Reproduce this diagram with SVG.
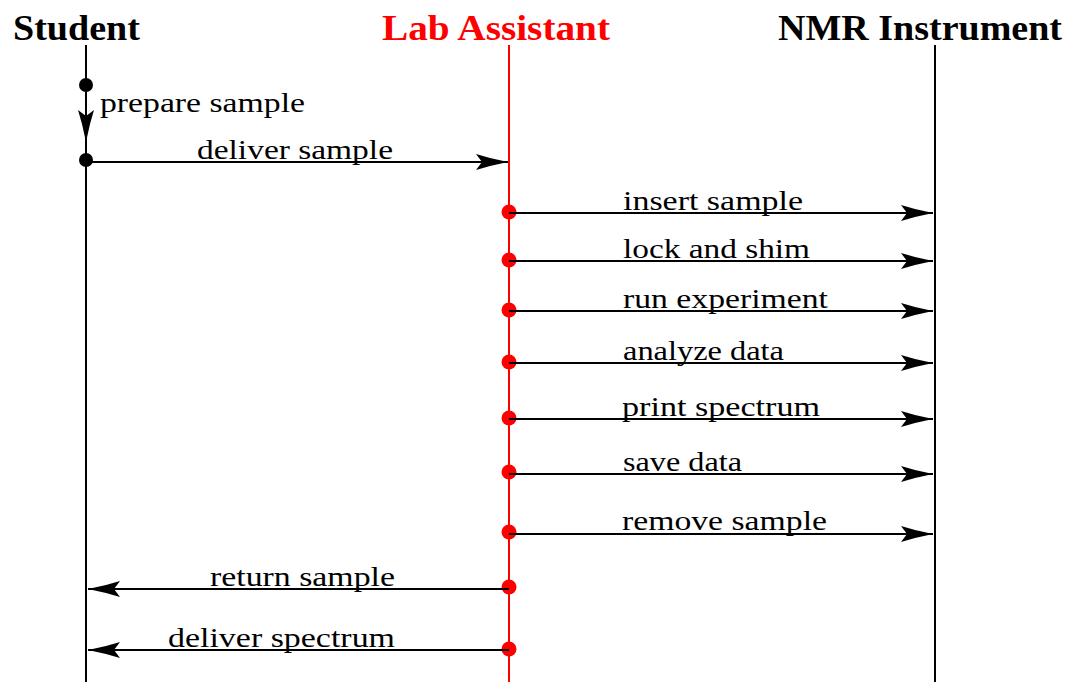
<svg xmlns="http://www.w3.org/2000/svg" width="1069" height="682" viewBox="0 0 1069 682">
<style>
.title{font-family:"Liberation Serif","Times New Roman",serif;font-weight:bold;font-size:35px}
.lbl{font-family:"Liberation Serif","Times New Roman",serif;font-size:27px;fill:#000}
.msg{stroke:#000;stroke-width:2;fill:none}
.life{stroke-width:2;fill:none}
</style>
<defs>
<marker id="ah" markerUnits="userSpaceOnUse" markerWidth="40" markerHeight="20" viewBox="-34 -10 36 20" refX="0" refY="0" orient="auto">
<path d="M0,0 L-18,-4 L-32,-8 L-26,0 L-32,8 L-18,4 Z" fill="#000"/>
</marker>
</defs>
<rect width="1069" height="682" fill="#fff"/>
<g id="student">
<text class="title" x="13" y="40" textLength="127" lengthAdjust="spacingAndGlyphs">Student</text>
<line class="life" x1="86" y1="45" x2="86" y2="682" stroke="#000"/>
<circle cx="86" cy="85" r="7" fill="#000"/>
<circle cx="86" cy="160" r="7" fill="#000"/>
</g>
<g id="lab-assistant">
<text class="title" x="382" y="40" fill="#ff0000" textLength="228" lengthAdjust="spacingAndGlyphs">Lab Assistant</text>
<line class="life" x1="509" y1="45" x2="509" y2="682" stroke="#ff0000"/>
<circle cx="509" cy="212" r="7.5" fill="#ff0000"/>
<circle cx="509" cy="260" r="7.5" fill="#ff0000"/>
<circle cx="509" cy="310" r="7.5" fill="#ff0000"/>
<circle cx="509" cy="362" r="7.5" fill="#ff0000"/>
<circle cx="509" cy="418" r="7.5" fill="#ff0000"/>
<circle cx="509" cy="472" r="7.5" fill="#ff0000"/>
<circle cx="509" cy="532" r="7.5" fill="#ff0000"/>
<circle cx="509" cy="587" r="7.5" fill="#ff0000"/>
<circle cx="509" cy="649" r="7.5" fill="#ff0000"/>
</g>
<g id="nmr-instrument">
<text class="title" x="778" y="40" textLength="284" lengthAdjust="spacingAndGlyphs">NMR Instrument</text>
<line class="life" x1="935" y1="45" x2="935" y2="682" stroke="#000"/>
</g>
<g id="connectors">
<line class="msg" x1="86" y1="90" x2="86" y2="142" marker-end="url(#ah)"/>
<line class="msg" x1="86" y1="162" x2="508" y2="162" marker-end="url(#ah)"/>
<line class="msg" x1="509" y1="213" x2="933" y2="213" marker-end="url(#ah)"/>
<line class="msg" x1="509" y1="261" x2="933" y2="261" marker-end="url(#ah)"/>
<line class="msg" x1="509" y1="311" x2="933" y2="311" marker-end="url(#ah)"/>
<line class="msg" x1="509" y1="363" x2="933" y2="363" marker-end="url(#ah)"/>
<line class="msg" x1="509" y1="419" x2="933" y2="419" marker-end="url(#ah)"/>
<line class="msg" x1="509" y1="474" x2="933" y2="474" marker-end="url(#ah)"/>
<line class="msg" x1="509" y1="534" x2="933" y2="534" marker-end="url(#ah)"/>
<line class="msg" x1="509" y1="589" x2="88" y2="589" marker-end="url(#ah)"/>
<line class="msg" x1="509" y1="650" x2="88" y2="650" marker-end="url(#ah)"/>
</g>
<g id="labels">
<text class="lbl" x="100" y="112" textLength="205" lengthAdjust="spacingAndGlyphs">prepare sample</text>
<text class="lbl" x="197" y="159" textLength="196" lengthAdjust="spacingAndGlyphs">deliver sample</text>
<text class="lbl" x="623" y="210" textLength="180" lengthAdjust="spacingAndGlyphs">insert sample</text>
<text class="lbl" x="623" y="258" textLength="187" lengthAdjust="spacingAndGlyphs">lock and shim</text>
<text class="lbl" x="623" y="308" textLength="205" lengthAdjust="spacingAndGlyphs">run experiment</text>
<text class="lbl" x="623" y="360" textLength="161" lengthAdjust="spacingAndGlyphs">analyze data</text>
<text class="lbl" x="622" y="416" textLength="198" lengthAdjust="spacingAndGlyphs">print spectrum</text>
<text class="lbl" x="623" y="471" textLength="119" lengthAdjust="spacingAndGlyphs">save data</text>
<text class="lbl" x="622" y="530" textLength="205" lengthAdjust="spacingAndGlyphs">remove sample</text>
<text class="lbl" x="210" y="586" textLength="185" lengthAdjust="spacingAndGlyphs">return sample</text>
<text class="lbl" x="168" y="647" textLength="227" lengthAdjust="spacingAndGlyphs">deliver spectrum</text>
</g>
</svg>
